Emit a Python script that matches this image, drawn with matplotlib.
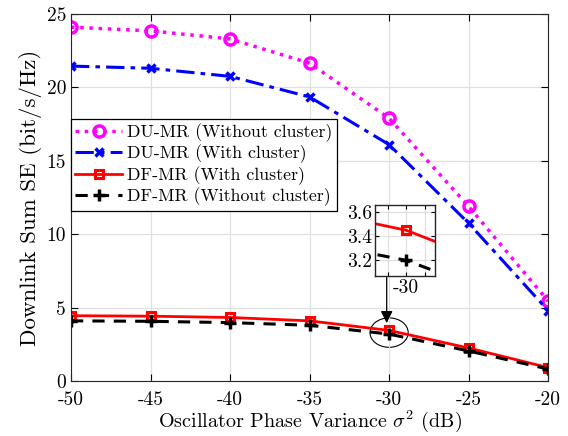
import numpy as np
import matplotlib.pyplot as plt
from matplotlib.patches import Ellipse

plt.rcParams['font.family'] = 'cmr10'
plt.rcParams['mathtext.fontset'] = 'cm'
plt.rcParams['axes.unicode_minus'] = False

sigma2 = [-50, -45, -40, -35, -30, -25, -20]          # phase variance (dB)

du_no_cluster = [24.1, 23.85, 23.3, 21.65, 17.9, 11.9, 5.45]
du_cluster = [21.45, 21.3, 20.75, 19.35, 16.1, 10.75, 4.8]
df_cluster = [4.45, 4.42, 4.33, 4.1, 3.45, 2.25, 0.92]
df_no_cluster = [4.1, 4.07, 3.98, 3.8, 3.2, 2.05, 0.82]

labels = ["DU-MR (Without cluster)", "DU-MR (With cluster)",
          "DF-MR (With cluster)", "DF-MR (Without cluster)"]


def draw(ax):
    ax.plot(sigma2, du_no_cluster, color='#ff00ff', ls=':', lw=2.5, marker='o',
            ms=8, mfc='none', mew=2.5, label=labels[0])
    ax.plot(sigma2, du_cluster, color='#0000ff', ls=(0, (6, 2, 1.5, 2)), lw=2.2,
            marker='x', ms=6, mew=2.5, label=labels[1])
    ax.plot(sigma2, df_cluster, color='#ff0000', ls='-', lw=2.0, marker='s',
            ms=6, mfc='none', mew=2.2, label=labels[2])
    ax.plot(sigma2, df_no_cluster, color='k', ls=(0, (4, 3)), lw=2.2,
            marker='+', ms=8, mew=2.5, label=labels[3])


fig = plt.figure(figsize=(5.68, 4.36), dpi=100)
ax = fig.add_axes([0.125, 0.126, 0.84, 0.842])
draw(ax)
ax.set_xlim(-50, -20)
ax.set_ylim(0, 25)
ax.set_xticks(sigma2)
ax.set_yticks([0, 5, 10, 15, 20, 25])
ax.grid(True, color='#e0e0e0', lw=0.9)
ax.tick_params(direction='in', top=True, right=True, labelsize=14, length=5)
ax.tick_params(axis='x', pad=7)
for s in ax.spines.values():
    s.set_color('#262626')
ax.set_xlabel(r"Oscillator Phase Variance $\sigma^2$ (dB)", fontsize=14.5, labelpad=0)
ax.set_ylabel("Downlink Sum SE (bit/s/Hz)", fontsize=16.5, labelpad=3)

leg = ax.legend(loc='upper left', bbox_to_anchor=(0, 0.714), fontsize=12.8,
                fancybox=False, edgecolor='k', framealpha=1, borderaxespad=0,
                handlelength=2.6, labelspacing=0.15, handletextpad=0.3,
                borderpad=0.25)
leg.get_frame().set_linewidth(0.9)

# zoom marker on the main axes
ax.add_patch(Ellipse((-30, 3.3), 2.4, 2.0, fill=False, color='k', lw=0.8))
ax.annotate("", xy=(-30.15, 3.95), xytext=(-30.15, 7.25),
            arrowprops=dict(arrowstyle='-|>', color='k', lw=0.9,
                            mutation_scale=18, shrinkA=0, shrinkB=0))

# inset
ins = fig.add_axes([0.660, 0.367, 0.106, 0.163])
draw(ins)
ins.set_xlim(-30.42, -29.61)
ins.set_ylim(3.07, 3.66)
ins.set_xticks([-30.25, -30, -29.75])
ins.set_xticklabels(['', '-30', ''])
ins.set_yticks([3.2, 3.4, 3.6])
ins.set_yticklabels(['3.2', '3.4', '3.6'])
ins.grid(True, color='#e0e0e0', lw=0.9)
ins.tick_params(direction='in', top=True, right=True, labelsize=14, length=3, pad=2)
for s in ins.spines.values():
    s.set_color('#262626')
    s.set_linewidth(1.0)

fig.savefig('out.png', dpi=100)
